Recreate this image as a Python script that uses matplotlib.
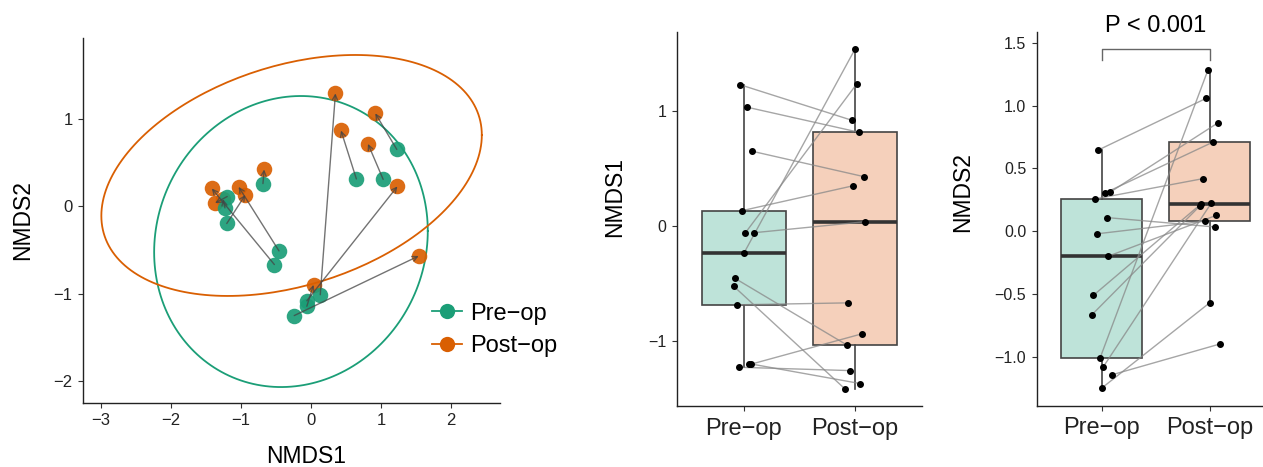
import numpy as np
import matplotlib.pyplot as plt
from matplotlib.lines import Line2D

plt.rcParams['font.family'] = ['Liberation Sans', 'DejaVu Sans']

# NMDS scores per subject, before and after surgery
pre_nmds1 = [1.225, 0.647, 1.030, -0.688, 0.131, -0.061, -0.241, -0.061, -0.459, -0.525, -1.199, -1.231, -1.205]
pre_nmds2 = [0.647, 0.310, 0.305, 0.257, -1.013, -1.082, -1.251, -1.145, -0.512, -0.668, 0.109, -0.021, -0.199]
post_nmds1 = [0.917, 0.427, 0.813, -0.671, 0.348, 1.234, 1.538, 0.035, -1.036, -1.419, -1.373, -1.260, -0.940]
post_nmds2 = [1.060, 0.864, 0.711, 0.419, 1.288, 0.225, -0.570, -0.899, 0.220, 0.201, 0.034, 0.080, 0.127]
# horizontal jitter per subject (same in both box panels)
jitter = [-0.03, 0.077, 0.032, -0.062, -0.015, 0.015, 0.0, 0.092, -0.077, -0.092, 0.046, -0.046, 0.062]
groups = ["Pre\u2212op", "Post\u2212op"]
p_label = "P < 0.001"

green = "#1B9E77"
orange = "#D95F02"
fill_green = "#BEE3D9"
fill_orange = "#F5D0BB"


def cov_trob(x, nu=5, maxit=25, tol=0.01):
    # robust multivariate t estimate of location and scatter (like MASS::cov.trob)
    n, p = x.shape
    loc = x.mean(axis=0)
    w = np.ones(n)
    for _ in range(maxit):
        w0 = w
        X = x - loc
        _, d, vt = np.linalg.svd(np.sqrt(w / w.sum())[:, None] * X, full_matrices=False)
        wX = X @ vt.T @ np.diag(1 / d)
        Q = (wX ** 2).sum(axis=1)
        w = (nu + p) / (nu + Q)
        loc = (w[:, None] * x).sum(axis=0) / w.sum()
        if np.all(np.abs(w - w0) < tol):
            break
    sw = np.sqrt(w)[:, None] * X
    return loc, sw.T @ sw / n


def ellipse_xy(xs, ys, level=0.95, segments=200):
    pts = np.column_stack([xs, ys])
    center, shape = cov_trob(pts)
    dfd = len(xs) - 1
    # F(2, dfd) quantile has a closed form
    qf = (dfd / 2) * ((1 - level) ** (-2 / dfd) - 1)
    radius = np.sqrt(2 * qf)
    t = np.linspace(0, 2 * np.pi, segments + 1)
    circle = np.column_stack([np.cos(t), np.sin(t)])
    L = np.linalg.cholesky(shape)
    e = center + radius * (circle @ L.T)
    return e[:, 0], e[:, 1]


fig = plt.figure(figsize=(12.63, 4.67), dpi=100)

# ---- NMDS ordination
ax1 = fig.add_axes([0.0657, 0.137, 0.3302, 0.7816])
ex, ey = ellipse_xy(pre_nmds1, pre_nmds2)
ax1.plot(ex, ey, color=green, lw=1.3)
ex, ey = ellipse_xy(post_nmds1, post_nmds2)
ax1.plot(ex, ey, color=orange, lw=1.3)
ax1.scatter(post_nmds1, post_nmds2, s=125, color=orange, alpha=0.92, lw=0, zorder=3)
ax1.scatter(pre_nmds1, pre_nmds2, s=125, color=green, alpha=0.92, lw=0, zorder=3)
for x0, y0, x1, y1 in zip(pre_nmds1, pre_nmds2, post_nmds1, post_nmds2):
    ax1.annotate("", xy=(x1, y1), xytext=(x0, y0),
                 arrowprops=dict(arrowstyle="->", color="#444444", alpha=0.75, lw=1.0,
                                 mutation_scale=9, shrinkA=0, shrinkB=0), zorder=4)
ax1.set_xlim(-3.26, 2.7)
ax1.set_ylim(-2.25, 1.92)
ax1.set_xticks([-3, -2, -1, 0, 1, 2])
ax1.set_yticks([-2, -1, 0, 1])
ax1.set_xlabel("NMDS1", fontsize=16.5)
ax1.set_ylabel("NMDS2", fontsize=16.5, labelpad=14)
ax1.xaxis.set_label_coords(0.536, -0.115)
ax1.tick_params(labelsize=12, length=3.5, width=0.8, color="#333333", labelcolor="#222222", pad=4)

handles = [Line2D([0], [0], color=green, lw=1.3, marker="o", markersize=11, markeredgewidth=0),
           Line2D([0], [0], color=orange, lw=1.3, marker="o", markersize=11, markeredgewidth=0)]
fig.legend(handles, groups, loc="center left", bbox_to_anchor=(0.325, 0.2935), frameon=False,
           fontsize=17, handlelength=1.27, handletextpad=0.34, labelspacing=0.45)


def box_panel(ax, pre, post, ylabel):
    ax.plot([[1 + j for j in jitter], [2 + j for j in jitter]], [pre, post],
            color="#888888", alpha=0.75, lw=1.0, zorder=4)
    bp = ax.boxplot([pre, post], positions=[1, 2], widths=0.75, patch_artist=True,
                    showfliers=False, whis=1.5,
                    boxprops=dict(edgecolor="#444444", lw=1.2),
                    whiskerprops=dict(color="#444444", lw=1.2),
                    capprops=dict(lw=0),
                    medianprops=dict(color="#333333", lw=2.6))
    for patch, c in zip(bp["boxes"], [fill_green, fill_orange]):
        patch.set_facecolor(c)
    ax.scatter([1 + j for j in jitter], pre, s=16, color="black", zorder=5)
    ax.scatter([2 + j for j in jitter], post, s=16, color="black", zorder=5)
    ax.set_xlim(0.4, 2.6)
    ax.set_xticks([1, 2])
    ax.set_xticklabels(groups)
    ax.set_ylabel(ylabel, fontsize=16.5)
    ax.tick_params(axis="y", labelsize=11.5, pad=4)
    ax.tick_params(axis="x", labelsize=17, pad=5)
    ax.tick_params(length=3.5, width=0.8, color="#333333", labelcolor="#222222")


ax2 = fig.add_axes([0.536, 0.1306, 0.194, 0.8015])
box_panel(ax2, pre_nmds1, post_nmds1, "NMDS1")
ax2.set_ylim(-1.568, 1.687)
ax2.set_yticks([-1, 0, 1])
ax2.yaxis.set_label_coords(-0.208, 0.559)

ax3 = fig.add_axes([0.8208, 0.1313, 0.1884, 0.8009])
box_panel(ax3, pre_nmds2, post_nmds2, "NMDS2")
ax3.set_ylim(-1.39, 1.59)
ax3.set_yticks([-1.0, -0.5, 0.0, 0.5, 1.0, 1.5])
ax3.set_yticklabels(["\u22121.0", "\u22120.5", "0.0", "0.5", "1.0", "1.5"])
ax3.yaxis.set_label_coords(-0.261, 0.570)
ax3.plot([1, 1, 2, 2], [1.366, 1.453, 1.453, 1.366], color="#666666", lw=1.0, clip_on=False)
ax3.text(1.5, 1.55, p_label, ha="center", va="bottom", fontsize=17, clip_on=False)

for ax in (ax1, ax2, ax3):
    for side in ("top", "right"):
        ax.spines[side].set_visible(False)
    for side in ("left", "bottom"):
        ax.spines[side].set_linewidth(1.0)
        ax.spines[side].set_color("#222222")

fig.savefig("out.png", dpi=100)
